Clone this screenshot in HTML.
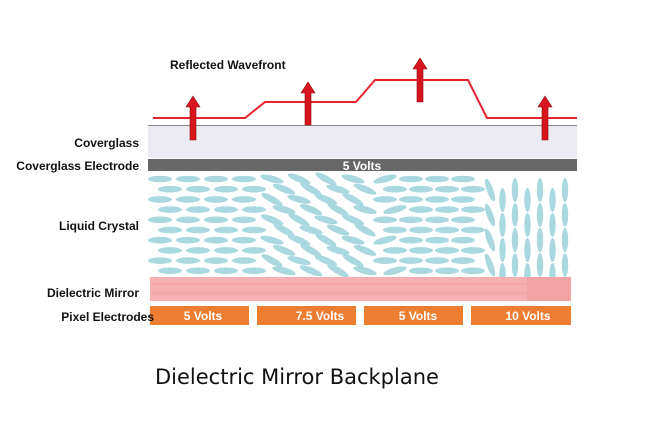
<!DOCTYPE html>
<html><head><style>
html,body{margin:0;padding:0;background:#fff;width:650px;height:438px;overflow:hidden}
svg{display:block}
.l{font-family:"Liberation Sans",Arial,sans-serif;font-weight:bold;font-size:12px;fill:#111}
.w{font-family:"Liberation Sans",Arial,sans-serif;font-weight:bold;font-size:12px;fill:#fff}
</style></head><body>
<svg id="s" width="650" height="438" xmlns="http://www.w3.org/2000/svg">
<rect x="148" y="125" width="429" height="33" fill="#ecebf4"/>
<line x1="148" y1="125.5" x2="577" y2="125.5" stroke="#888" stroke-width="1"/>
<rect x="148" y="159" width="429" height="12" fill="#676767"/>
<text class="w" x="362" y="170" text-anchor="middle">5 Volts</text>
<g id="lc"></g>
<rect x="150" y="277" width="421" height="24" fill="#f6b0b3"/>
<rect x="150" y="283" width="380" height="2" fill="#f39ca0" opacity=".5"/>
<rect x="150" y="292" width="380" height="2" fill="#f39ca0" opacity=".5"/>
<rect x="527" y="277" width="44" height="24" fill="#f3a2a6"/>
<rect x="150" y="306" width="99" height="19" fill="#ed7d31"/>
<rect x="257" y="306" width="99" height="19" fill="#ed7d31"/>
<rect x="364" y="306" width="99" height="19" fill="#ed7d31"/>
<rect x="471" y="306" width="100" height="19" fill="#ed7d31"/>
<text class="w" x="203" y="320" text-anchor="middle">5 Volts</text>
<text class="w" x="320" y="320" text-anchor="middle">7.5 Volts</text>
<text class="w" x="418" y="320" text-anchor="middle">5 Volts</text>
<text class="w" x="528" y="320" text-anchor="middle">10 Volts</text>
<polyline points="153,118 245,118 265,102 356,102 375,80 468,80 487,118 577,118" fill="none" stroke="#e8222a" stroke-width="2"/>
<g fill="#d8141c" stroke="#8a0a0e" stroke-width="0.6">
<polygon points="190,140 190,107 186,107 193,96 200,107 196,107 196,140"/>
<polygon points="305,125 305,93 301,93 308,82 315,93 311,93 311,125"/>
<polygon points="417,102 417,69 413,69 420,58 427,69 423,69 423,102"/>
<polygon points="542,140 542,107 538,107 545,96 552,107 548,107 548,140"/>
</g>
<text class="l" x="170" y="69" font-size="12">Reflected Wavefront</text>
<text class="l" x="139" y="147" text-anchor="end">Coverglass</text>
<text class="l" x="139" y="170" text-anchor="end">Coverglass Electrode</text>
<text class="l" x="139" y="230" text-anchor="end">Liquid Crystal</text>
<text class="l" x="139" y="297" text-anchor="end">Dielectric Mirror</text>
<text class="l" x="154" y="321" text-anchor="end">Pixel Electrodes</text>
<text x="155" y="384" font-family="'DejaVu Sans',sans-serif" font-size="21" fill="#111">Dielectric Mirror Backplane</text>
</svg>
<script>
var g=document.getElementById('lc'),h='';
function e(x,y,rx,ry,a){h+='<ellipse cx="'+x.toFixed(1)+'" cy="'+y.toFixed(1)+'" rx="'+rx+'" ry="'+ry+'" transform="rotate('+a+' '+x.toFixed(1)+' '+y.toFixed(1)+')" fill="#a9d8de"/>';}
for(var r=0;r<10;r++){var y=179+r*10.2;
 for(var c=0;c<4;c++){e(160+c*28+(r%2)*10,y,12,3.3,0);}
 for(var c=0;c<4;c++){var x=272+c*27+(r%2)*12;e(x,y,12,3.3,15+((r+c)%3)*7);}
 for(var c=0;c<4;c++){e(385+c*26+(r%2)*10,y,12,3.3,(c==0&&r%3==0)?-15:0);}
}
for(var c=0;c<7;c++)for(var r=0;r<4;r++){var x=490+c*12.5,y=190+r*25+(c%2)*10;e(x,y,3.2,12,(c==0?-20:0));}
g.innerHTML=h;
</script>
</body></html>
